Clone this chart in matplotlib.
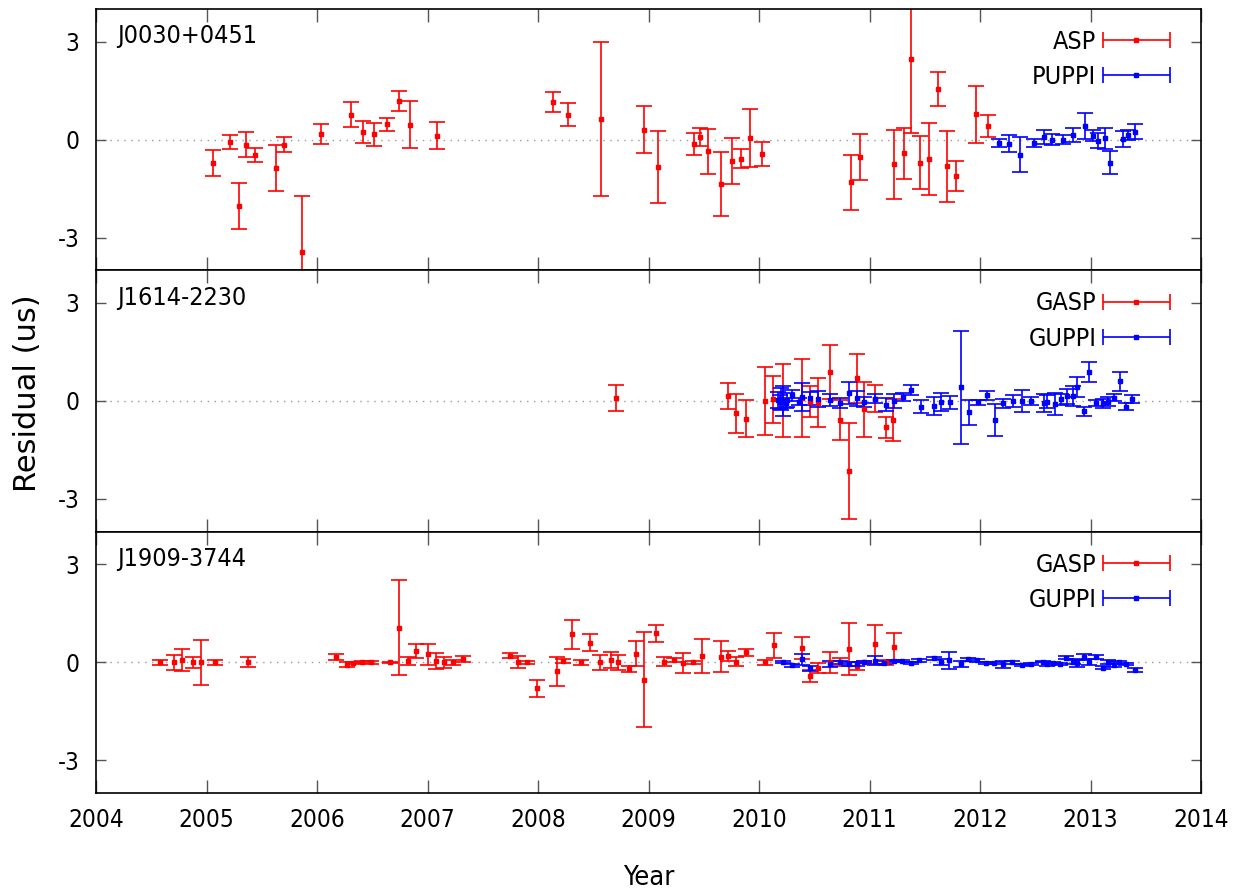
import matplotlib
matplotlib.use('Agg')
import matplotlib.pyplot as plt
import numpy as np
from matplotlib.legend_handler import HandlerErrorbar
from matplotlib.container import ErrorbarContainer

# J0030+0451 : ASP (rojo) y PUPPI (azul)
j0030_asp_year = [2005.06, 2005.21, 2005.29, 2005.36, 2005.44, 2005.63, 2005.70, 2005.86,
                  2006.04, 2006.31, 2006.42, 2006.52, 2006.63, 2006.74, 2006.84, 2007.09,
                  2008.14, 2008.27, 2008.57, 2008.96, 2009.09, 2009.41, 2009.47, 2009.54,
                  2009.66, 2009.76, 2009.84, 2009.92, 2010.03, 2010.83, 2010.91, 2011.22,
                  2011.31, 2011.38, 2011.46, 2011.54, 2011.62, 2011.70, 2011.78, 2011.96, 2012.07]
j0030_asp_res = [-0.71, -0.08, -2.04, -0.16, -0.46, -0.86, -0.16, -3.43,
                 0.17, 0.77, 0.23, 0.17, 0.47, 1.18, 0.46, 0.12,
                 1.16, 0.77, 0.63, 0.31, -0.84, -0.14, 0.09, -0.36,
                 -1.37, -0.66, -0.59, 0.05, -0.45, -1.31, -0.54, -0.76,
                 -0.42, 2.48, -0.70, -0.59, 1.54, -0.82, -1.10, 0.78, 0.42]
j0030_asp_err = [0.39, 0.21, 0.70, 0.38, 0.21, 0.71, 0.23, 1.70,
                 0.31, 0.38, 0.33, 0.35, 0.20, 0.30, 0.72, 0.41,
                 0.30, 0.36, 2.36, 0.72, 1.10, 0.33, 0.27, 0.69,
                 0.98, 0.70, 0.29, 0.90, 0.37, 0.83, 0.70, 1.05,
                 0.78, 2.28, 0.81, 1.10, 0.52, 1.08, 0.46, 0.87, 0.33]
j0030_puppi_year = [2012.17, 2012.26, 2012.36, 2012.49, 2012.58, 2012.65, 2012.75, 2012.84,
                    2012.95, 2013.02, 2013.07, 2013.13, 2013.18, 2013.29, 2013.34, 2013.40]
j0030_puppi_res = [-0.10, -0.12, -0.46, -0.10, 0.08, 0.00, 0.00, 0.15,
                   0.42, 0.12, -0.04, 0.04, -0.70, 0.03, 0.15, 0.25]
j0030_puppi_err = [0.13, 0.25, 0.54, 0.13, 0.22, 0.16, 0.14, 0.21,
                   0.41, 0.17, 0.23, 0.33, 0.34, 0.25, 0.16, 0.24]

# J1614-2230 : GASP y GUPPI
j1614_gasp_year = [2008.71, 2009.72, 2009.79, 2009.88, 2010.05, 2010.13, 2010.22, 2010.39, 2010.46,
                   2010.53, 2010.64, 2010.73, 2010.81, 2010.89, 2010.95, 2011.05, 2011.15, 2011.21]
j1614_gasp_res = [0.08, 0.16, -0.38, -0.54, 0.00, 0.05, 0.02, 0.09, -0.02,
                  -0.06, 0.89, -0.59, -2.14, 0.70, -0.26, 0.07, -0.81, -0.59]
j1614_gasp_err = [0.40, 0.39, 0.60, 0.57, 1.05, 0.72, 1.12, 1.20, 0.48,
                  0.75, 0.82, 0.61, 1.48, 0.75, 0.84, 0.42, 0.32, 0.64]
j1614_guppi_year = [2010.17, 2010.19, 2010.20, 2010.22, 2010.24, 2010.25, 2010.30, 2010.36, 2010.39, 2010.46,
                    2010.53, 2010.64, 2010.73, 2010.81, 2010.89, 2010.95, 2011.05, 2011.15, 2011.22, 2011.30,
                    2011.38, 2011.47, 2011.58, 2011.65, 2011.73, 2011.83, 2011.90, 2011.98, 2012.06, 2012.14,
                    2012.21, 2012.30, 2012.38, 2012.46, 2012.58, 2012.61, 2012.68, 2012.73, 2012.79, 2012.84,
                    2012.88, 2012.94, 2012.99, 2013.05, 2013.11, 2013.16, 2013.21, 2013.27, 2013.32, 2013.38]
j1614_guppi_res = [0.03, -0.03, 0.06, 0.00, -0.05, 0.04, 0.17, -0.02, 0.12, 0.08,
                   0.06, 0.03, -0.07, 0.24, 0.08, -0.02, 0.07, -0.11, 0.01, 0.12,
                   0.33, -0.17, -0.15, -0.03, -0.04, 0.42, -0.35, -0.04, 0.17, -0.59,
                   -0.07, -0.01, 0.00, 0.00, -0.07, -0.02, -0.09, 0.05, 0.14, 0.15,
                   0.42, -0.31, 0.88, -0.05, -0.07, -0.02, 0.10, 0.60, -0.18, 0.05]
j1614_guppi_err = [0.25, 0.20, 0.35, 0.45, 0.15, 0.22, 0.18, 0.10, 0.44, 0.19,
                   0.25, 0.17, 0.15, 0.33, 0.23, 0.15, 0.13, 0.19, 0.21, 0.12,
                   0.15, 0.21, 0.28, 0.29, 0.19, 1.73, 0.39, 0.08, 0.14, 0.49,
                   0.13, 0.18, 0.35, 0.12, 0.28, 0.20, 0.34, 0.17, 0.23, 0.30,
                   0.30, 0.14, 0.31, 0.09, 0.14, 0.13, 0.11, 0.28, 0.11, 0.12]

# J1909-3744 : GASP y GUPPI
j1909_gasp_year = [2004.58, 2004.71, 2004.78, 2004.88, 2004.95, 2005.08, 2005.38,
                   2006.17, 2006.27, 2006.33, 2006.41, 2006.49, 2006.66, 2006.74, 2006.82, 2006.90,
                   2007.00, 2007.08, 2007.15, 2007.23, 2007.32, 2007.75, 2007.82, 2007.90, 2007.99,
                   2008.17, 2008.23, 2008.31, 2008.39, 2008.47, 2008.56, 2008.66, 2008.72, 2008.82,
                   2008.89, 2008.96, 2009.07, 2009.14, 2009.23, 2009.31, 2009.40, 2009.48, 2009.66,
                   2009.72, 2009.79, 2009.88, 2010.05, 2010.14, 2010.39, 2010.46, 2010.53, 2010.64,
                   2010.73, 2010.81, 2010.89, 2010.95, 2011.05, 2011.15, 2011.22]
j1909_gasp_res = [0.00, 0.00, 0.08, 0.00, 0.00, 0.00, 0.00,
                  0.16, -0.07, -0.02, 0.02, 0.00, 0.00, 1.06, 0.04, 0.34,
                  0.24, 0.05, 0.00, 0.00, 0.11, 0.20, 0.00, 0.00, -0.79,
                  -0.27, 0.04, 0.86, 0.00, 0.60, 0.00, 0.08, 0.00, -0.21,
                  0.27, -0.53, 0.89, 0.02, 0.07, -0.02, 0.00, 0.19, 0.17,
                  0.20, 0.02, 0.31, 0.00, 0.52, 0.44, -0.41, -0.17, 0.00,
                  0.00, 0.40, -0.11, 0.02, 0.55, 0.00, 0.47]
j1909_gasp_err = [0.07, 0.23, 0.33, 0.17, 0.68, 0.08, 0.15,
                  0.09, 0.07, 0.03, 0.03, 0.05, 0.02, 1.45, 0.13, 0.21,
                  0.31, 0.24, 0.16, 0.08, 0.09, 0.08, 0.18, 0.04, 0.26,
                  0.44, 0.05, 0.45, 0.07, 0.26, 0.22, 0.25, 0.22, 0.09,
                  0.37, 1.45, 0.26, 0.14, 0.07, 0.32, 0.04, 0.53, 0.47,
                  0.15, 0.13, 0.11, 0.08, 0.39, 0.34, 0.18, 0.16, 0.33,
                  0.12, 0.79, 0.13, 0.03, 0.59, 0.07, 0.43]
j1909_guppi_year = [2010.22, 2010.30, 2010.39, 2010.46, 2010.64, 2010.73, 2010.81, 2010.89, 2010.95,
                    2011.05, 2011.13, 2011.22, 2011.29, 2011.38, 2011.45, 2011.58, 2011.65, 2011.72,
                    2011.83, 2011.89, 2011.97, 2012.05, 2012.13, 2012.21, 2012.29, 2012.38, 2012.46,
                    2012.57, 2012.61, 2012.66, 2012.72, 2012.78, 2012.84, 2012.88, 2012.94, 2012.99,
                    2013.05, 2013.11, 2013.16, 2013.21, 2013.26, 2013.32, 2013.40]
j1909_guppi_res = [0.00, -0.09, 0.09, -0.18, -0.06, 0.00, -0.05, -0.04, 0.01,
                   0.05, -0.01, 0.03, 0.03, -0.03, 0.06, 0.12, 0.00, 0.06,
                   -0.05, 0.09, 0.06, -0.01, -0.01, -0.06, 0.00, -0.08, -0.04,
                   0.02, -0.04, -0.01, -0.05, 0.14, 0.02, -0.03, 0.17, 0.00,
                   0.17, -0.16, 0.00, -0.07, 0.00, -0.06, -0.23]
j1909_guppi_err = [0.03, 0.04, 0.17, 0.08, 0.09, 0.04, 0.05, 0.06, 0.03,
                   0.13, 0.04, 0.03, 0.03, 0.03, 0.04, 0.04, 0.09, 0.27,
                   0.09, 0.05, 0.04, 0.03, 0.03, 0.10, 0.05, 0.04, 0.03,
                   0.02, 0.06, 0.03, 0.04, 0.05, 0.07, 0.11, 0.09, 0.09,
                   0.06, 0.05, 0.06, 0.07, 0.04, 0.03, 0.06]

pulsar_names = ['J0030+0451', 'J1614-2230', 'J1909-3744']
backend_labels = [('ASP', 'PUPPI'), ('GASP', 'GUPPI'), ('GASP', 'GUPPI')]
x_ticks = list(range(2004, 2015))
y_ticks = [-3, 0, 3]

paneles = [
    ((j0030_asp_year, j0030_asp_res, j0030_asp_err), (j0030_puppi_year, j0030_puppi_res, j0030_puppi_err)),
    ((j1614_gasp_year, j1614_gasp_res, j1614_gasp_err), (j1614_guppi_year, j1614_guppi_res, j1614_guppi_err)),
    ((j1909_gasp_year, j1909_gasp_res, j1909_gasp_err), (j1909_guppi_year, j1909_guppi_res, j1909_guppi_err)),
]

plt.rcParams['font.family'] = ['DejaVu Sans']
plt.rcParams['font.stretch'] = 'condensed'
plt.rcParams['axes.unicode_minus'] = False

fig, axes = plt.subplots(3, 1, figsize=(12.43, 8.93), dpi=100, sharex=True)
fig.subplots_adjust(left=96/1243, right=1201/1243, top=1-9/893, bottom=1-793/893, hspace=0)

estilo = dict(fmt='s', markersize=2.6, elinewidth=1.2, capsize=5.5, capthick=1.2, linestyle='none')

for ax, nombre, (lab1, lab2), (d1, d2) in zip(axes, pulsar_names, backend_labels, paneles):
    ax.axhline(0, color='#999999', linestyle=(0, (1, 4)), linewidth=1.0, zorder=0)
    ax.errorbar(d1[0], d1[1], yerr=d1[2], color='#ff0000', **estilo)
    ax.errorbar(d2[0], d2[1], yerr=d2[2], color='#0000ff', **estilo)

    # Muestras de leyenda al estilo gnuplot (barra horizontal)
    h1 = ax.errorbar([np.nan], [np.nan], xerr=[0.1], color='#ff0000', **estilo)
    h2 = ax.errorbar([np.nan], [np.nan], xerr=[0.1], color='#0000ff', **estilo)
    ax.legend([h1, h2], [lab1, lab2], loc='upper right', frameon=False, markerfirst=False,
              handlelength=2.7, numpoints=1, fontsize=18, borderpad=0, borderaxespad=0,
              bbox_to_anchor=(1 - 31/1105, 1 - 21/262), labelspacing=0.45, handletextpad=0.25,
              handler_map={ErrorbarContainer: HandlerErrorbar(xerr_size=1.35)})

    ax.text(0.019, 0.895, nombre, transform=ax.transAxes, fontsize=18, va='center', ha='left')

    ax.set_ylim(-4, 4)
    ax.set_xlim(2004, 2014)
    ax.set_yticks(y_ticks)
    ax.set_xticks(x_ticks)
    ax.tick_params(axis='x', direction='in', length=9.5, width=1.0, color='#555555',
                   top=True, bottom=True, labelsize=17.5, pad=11)
    ax.tick_params(axis='y', direction='in', length=7.5, width=1.0, color='#555555',
                   left=True, right=True, labelsize=17.5, pad=12)
    for s in ax.spines.values():
        s.set_linewidth(1.2)

fig.text(0.022, 1 - 393/893, 'Residual (us)', rotation=90, fontsize=22, fontstretch='normal',
         ha='center', va='center')
fig.text(648.5/1243, 1 - 878/893, 'Year', fontsize=19.5, ha='center', va='center')

plt.savefig('out.png', dpi=100)
